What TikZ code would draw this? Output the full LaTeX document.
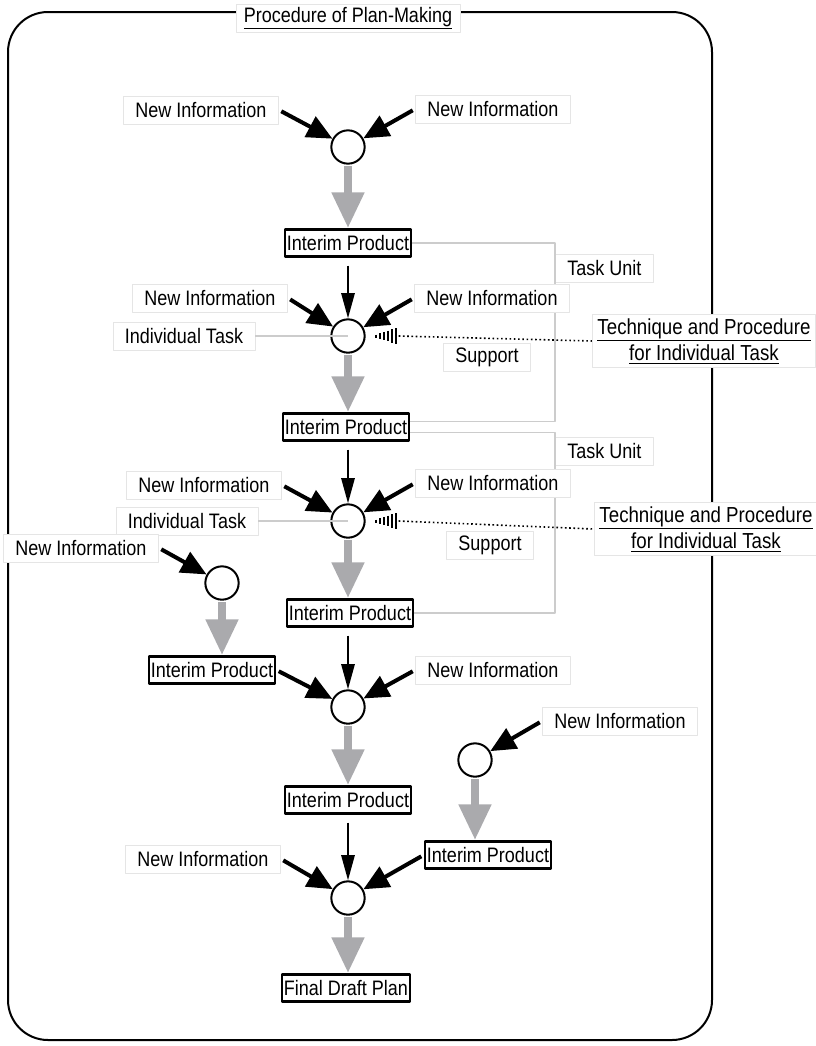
\documentclass[tikz,border=0pt]{standalone}
\usepackage{fontspec}
\setmainfont{Liberation Sans}[FakeStretch=0.86]
\usetikzlibrary{arrows.meta}
\definecolor{arrowgray}{RGB}{170,170,173}

\begin{document}
\begin{tikzpicture}[x=0.75pt,y=-0.75pt,line join=round,font=\fontsize{15.7}{18}\selectfont,
    box/.style={draw=black!10,fill=white,inner xsep=9pt,inner ysep=2pt,minimum height=21pt,line width=0.6pt},
    product/.style={draw,line width=2pt,fill=white,inner xsep=1.5pt,inner ysep=1pt,minimum height=20pt},
    task/.style={circle,draw,line width=1.5pt,minimum size=25pt,inner sep=0pt},
    technique/.style={box,align=center,inner xsep=4pt,inner ysep=3pt,font=\fontsize{16.3}{20}\selectfont},
    infoarrow/.style={line width=3pt,-{Triangle[length=19pt,width=17pt]},shorten <=2pt},
    flowarrow/.style={line width=1.6pt,-{Triangle[length=19pt,width=10pt]},shorten <=6pt},
    grayarrow/.style={draw=arrowgray,line width=6.5pt,-{Triangle[length=27pt,width=23pt]},shorten <=1pt},
    unitline/.style={draw=black!20,line width=0.8pt},
    supportline/.style={dotted,line width=1.2pt}]
    \useasboundingbox (0,0) rectangle (816,1046);
    %Frame and title
    \draw[line width=1.5pt,rounded corners=30pt] (8,12) rectangle (712,1040);
    \node[box,inner xsep=6pt] (title) at (348,18) {\underline{Procedure of Plan-Making}};
    %First task
    \node[task] (c1) at (348,147) {};
    \node[box] (nia1) at (201,110) {New Information};
    \node[box] (nib1) at (493,109) {New Information};
    \node[product] (ip1) at (348,243) {Interim Product};
    \draw[infoarrow] (nia1.east) -- (c1);
    \draw[infoarrow] (nib1.west) -- (c1);
    \draw[grayarrow] (c1) -- (ip1);
    %Second task (task unit)
    \node[task] (c2) at (348,336) {};
    \node[product] (ip2) at (346,427) {Interim Product};
    \node[box,anchor=west] (tu2) at (555,268) {Task Unit};
    \draw[unitline] (ip1.east) -- (ip1.east -| tu2.west) |- ([yshift=4pt]ip2.east);
    \node[box] (nia2) at (210,298) {New Information};
    \node[box] (nib2) at (492,298) {New Information};
    \node[box] (it2) at (184,336) {Individual Task};
    \node[box] (sup2) at (487,357) {Support};
    \node[technique] (tech2) at (704,341) {\underline{Technique and Procedure}\\\underline{for Individual Task}};
    \draw[unitline] (it2.east) -- (c2.center);
    \draw[flowarrow] (c2 |- ip1.south) -- (c2);
    \draw[infoarrow] (nia2.east) -- (c2);
    \draw[infoarrow] (nib2.west) -- (c2);
    \coordinate (h2) at (376,336);
    \foreach \k in {0,...,5} \draw[line width=0.9pt] ([xshift=\k*3pt]h2) ++(0,-1.5-\k*1.3) -- ++(0,3+\k*2.6);
    \draw[supportline] ([xshift=17pt]h2) -- (tech2.west);
    \draw[grayarrow] (c2) -- (c2 |- ip2.north);
    %Third task (task unit)
    \node[task] (c3) at (348,521) {};
    \node[product] (ip3) at (350,613) {Interim Product};
    \node[box,anchor=west] (tu3) at (555,451) {Task Unit};
    \draw[unitline] ([yshift=-4pt]ip2.east) -- ([yshift=-4pt]ip2.east -| tu3.west) |- (ip3.east);
    \node[box] (nia3) at (204,485) {New Information};
    \node[box] (nib3) at (493,483) {New Information};
    \node[box] (it3) at (187,521) {Individual Task};
    \node[box] (sup3) at (490,545) {Support};
    \node[technique] (tech3) at (706,529) {\underline{Technique and Procedure}\\\underline{for Individual Task}};
    \draw[unitline] (it3.east) -- (c3.center);
    \draw[flowarrow] (c3 |- ip2.south) -- (c3);
    \draw[infoarrow] (nia3.east) -- (c3);
    \draw[infoarrow] (nib3.west) -- (c3);
    \coordinate (h3) at (376,521);
    \foreach \k in {0,...,5} \draw[line width=0.9pt] ([xshift=\k*3pt]h3) ++(0,-1.5-\k*1.3) -- ++(0,3+\k*2.6);
    \draw[supportline] ([xshift=17pt]h3) -- (tech3.west);
    \draw[grayarrow] (c3) -- (c3 |- ip3.north);
    %Side task on the left
    \node[box] (nic4) at (81,548) {New Information};
    \node[task] (c4) at (222,583) {};
    \node[product] (ip4) at (212,670) {Interim Product};
    \draw[infoarrow] (nic4.east) -- (c4);
    \draw[grayarrow] (c4) -- (c4 |- ip4.north);
    %Fourth task
    \node[task] (c5) at (348,707) {};
    \node[box] (nib5) at (493,670) {New Information};
    \node[product] (ip5) at (348,800) {Interim Product};
    \draw[flowarrow] (c5 |- ip3.south) -- (c5);
    \draw[infoarrow] (ip4.east) -- (c5);
    \draw[infoarrow] (nib5.west) -- (c5);
    \draw[grayarrow] (c5) -- (ip5);
    %Side task on the right
    \node[box] (nid6) at (620,721) {New Information};
    \node[task] (c6) at (475,760) {};
    \node[product] (ip6) at (488,855) {Interim Product};
    \draw[infoarrow] (nid6.west) -- (c6);
    \draw[grayarrow] (c6) -- (c6 |- ip6.north);
    %Last task
    \node[task] (c7) at (348,898) {};
    \node[box] (nia7) at (203,859) {New Information};
    \node[product] (fdp) at (346,988) {Final Draft Plan};
    \draw[flowarrow] (ip5) -- (c7);
    \draw[infoarrow] (nia7.east) -- (c7);
    \draw[infoarrow] (ip6.west) -- (c7);
    \draw[grayarrow] (c7) -- (c7 |- fdp.north);
\end{tikzpicture}
\end{document}
